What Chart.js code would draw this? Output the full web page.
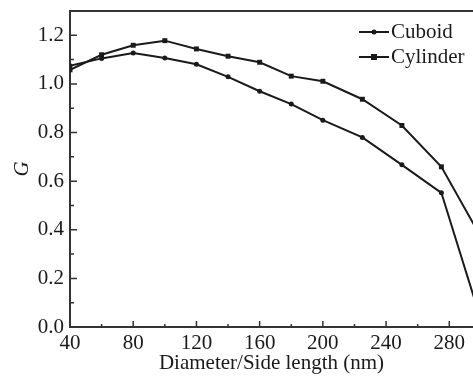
<!DOCTYPE html>
<html lang="en">
<head>
  <title>G vs Diameter/Side length</title>
  <script type="text/javascript" src="https://cdn.jsdelivr.net/npm/chart.js"></script>
  <style>
    html, body { margin: 0; padding: 0; background: #fff; }
    #wrap { width: 473px; height: 376px; }
  </style>
</head>
<body>
<div id="wrap"><canvas id="c"></canvas></div>

<script>
  // values
  const sizes = [40, 60, 80, 100, 120, 140, 160, 180, 200, 225, 250, 275, 300];
  const cuboidG = [1.075, 1.105, 1.127, 1.107, 1.081, 1.029, 0.970, 0.917, 0.851, 0.780, 0.667, 0.552, 0.03];
  const cylinderG = [1.058, 1.120, 1.159, 1.178, 1.144, 1.114, 1.089, 1.032, 1.011, 0.937, 0.829, 0.659, 0.37];
  const xMajor = [40, 80, 120, 160, 200, 240, 280];
  const xMinor = [60, 100, 140, 180, 220, 260];
  const yMajor = [0, 0.2, 0.4, 0.6, 0.8, 1.0, 1.2];
  const yMinor = [0.1, 0.3, 0.5, 0.7, 0.9, 1.1];

  const ink = '#1a1a1a';
  const axisInk = '#333';
  const serif = "'Liberation Serif', 'DejaVu Serif', serif";

  function pts(ys) {
    return sizes.map((x, i) => ({ x: x, y: ys[i] }));
  }

  // inward ticks, top frame line and the legend
  const framePlugin = {
    id: 'frame',
    afterDraw(chart) {
      const ctx = chart.ctx;
      const a = chart.chartArea;
      const xs = chart.scales.x, ys = chart.scales.y;
      ctx.save();
      ctx.strokeStyle = axisInk;
      ctx.lineWidth = 2;
      ctx.beginPath();
      ctx.moveTo(a.left - 1, a.top);
      ctx.lineTo(a.right, a.top);
      ctx.stroke();

      ctx.lineWidth = 1.5;
      ctx.beginPath();
      yMajor.forEach(v => { const p = ys.getPixelForValue(v); ctx.moveTo(a.left, p); ctx.lineTo(a.left + 7, p); });
      yMinor.forEach(v => { const p = ys.getPixelForValue(v); ctx.moveTo(a.left, p); ctx.lineTo(a.left + 4, p); });
      xMajor.forEach(v => { const p = xs.getPixelForValue(v); ctx.moveTo(p, a.bottom); ctx.lineTo(p, a.bottom - 6); });
      xMinor.forEach(v => { const p = xs.getPixelForValue(v); ctx.moveTo(p, a.bottom); ctx.lineTo(p, a.bottom - 3); });
      ctx.stroke();

      // legend
      ctx.font = '21px ' + serif;
      ctx.textBaseline = 'middle';
      ctx.fillStyle = ink;
      chart.data.datasets.forEach((ds, i) => {
        const cy = 32 + i * 25;
        ctx.strokeStyle = ink;
        ctx.lineWidth = 2;
        ctx.beginPath();
        ctx.moveTo(359, cy);
        ctx.lineTo(389, cy);
        ctx.stroke();
        ctx.beginPath();
        if (ds.pointStyle === 'rect') {
          ctx.fillRect(374 - 3, cy - 3, 6, 6);
        } else {
          ctx.arc(374, cy, 2.5, 0, Math.PI * 2);
          ctx.fill();
        }
        ctx.fillText(ds.label, 391, cy);
      });
      ctx.restore();
    }
  };

  new Chart(document.getElementById('c'), {
    type: 'line',
    data: {
      datasets: [
        {
          label: 'Cuboid',
          data: pts(cuboidG),
          borderColor: ink,
          backgroundColor: ink,
          borderWidth: 2,
          pointStyle: 'circle',
          pointRadius: 2.5,
          pointBorderWidth: 0,
          tension: 0,
        },
        {
          label: 'Cylinder',
          data: pts(cylinderG),
          borderColor: ink,
          backgroundColor: ink,
          borderWidth: 2,
          pointStyle: 'rect',
          pointRadius: 3.5,
          pointBorderWidth: 0,
          tension: 0,
        },
      ],
    },
    options: {
      responsive: true,
      maintainAspectRatio: false,
      animation: false,
      layout: { autoPadding: false, padding: { top: 11, right: 0, left: 0, bottom: 0 } },
      plugins: {
        legend: { display: false },
        tooltip: { enabled: false },
      },
      scales: {
        x: {
          type: 'linear',
          min: 40,
          max: 295,
          afterFit: s => { s.height = 49; s.paddingLeft = 0; s.paddingRight = 0; },
          grid: { display: false, drawTicks: false },
          border: { display: true, color: axisInk, width: 2 },
          ticks: {
            stepSize: 40,
            includeBounds: false,
            padding: 4,
            maxRotation: 0,
            color: ink,
            font: { family: serif, size: 21 },
          },
          title: {
            display: true,
            text: 'Diameter/Side length (nm)',
            color: ink,
            font: { family: serif, size: 21 },
            padding: { top: 0, bottom: 0 },
          },
        },
        y: {
          min: 0,
          max: 1.3,
          afterFit: s => { s.width = 70; s.paddingTop = 0; s.paddingBottom = 0; },
          grid: { display: false, drawTicks: false },
          border: { display: true, color: axisInk, width: 2 },
          ticks: {
            stepSize: 0.2,
            includeBounds: false,
            padding: 6,
            color: ink,
            font: { family: serif, size: 21 },
            callback: v => v.toFixed(1),
          },
          title: {
            display: true,
            text: 'G',
            color: ink,
            font: { family: serif, size: 21, style: 'italic' },
            padding: { top: 10, bottom: 0 },
          },
        },
      },
    },
    plugins: [framePlugin],
  });
</script>
</body>
</html>
